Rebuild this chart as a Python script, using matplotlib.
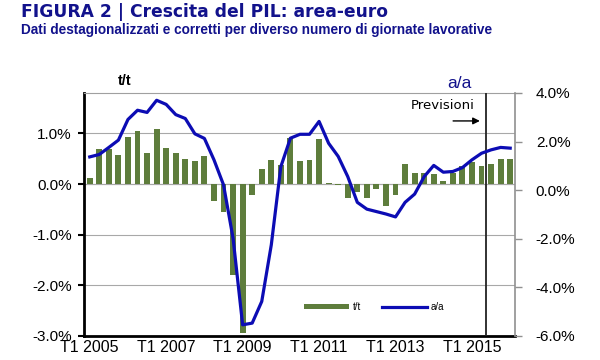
import matplotlib
matplotlib.use('Agg')
import matplotlib.pyplot as plt
import numpy as np

plt.rcParams['font.family'] = ['Liberation Sans', 'DejaVu Sans']

# trimestri T1 2005 - T1 2016
quarters = [f'T{q} {y}' for y in range(2005, 2017) for q in range(1, 5)][:45]
tick_labels = ['T1 2005', 'T1 2007', 'T1 2009', 'T1 2011', 'T1 2013', 'T1 2015']
forecast_start = 'T3 2015'

# variazione congiunturale t/t (%)
tt = [0.12, 0.70, 0.70, 0.58, 0.93, 1.04, 0.62, 1.08, 0.72, 0.61, 0.50, 0.45, 0.56,
      -0.33, -0.56, -1.80, -2.95, -0.22, 0.30, 0.48, 0.38, 0.92, 0.45, 0.48,
      0.89, 0.02, -0.02, -0.28, -0.15, -0.27, -0.09, -0.43, -0.22, 0.39,
      0.22, 0.22, 0.19, 0.06, 0.22, 0.35, 0.43, 0.35, 0.39, 0.49, 0.49]
# variazione tendenziale a/a (%)
aa = [1.37, 1.47, 1.76, 2.06, 2.91, 3.29, 3.20, 3.70, 3.53, 3.11, 2.95, 2.32, 2.13,
      1.25, 0.22, -1.98, -5.54, -5.47, -4.58, -2.25, 0.97, 2.14, 2.30, 2.30,
      2.83, 1.93, 1.39, 0.56, -0.50, -0.78, -0.88, -0.98, -1.10, -0.50,
      -0.16, 0.56, 1.02, 0.74, 0.77, 0.93, 1.25, 1.52, 1.66, 1.76, 1.73]

green = '#5e7d3c'
blue = '#0c0cb4'
navy = '#12128c'

x = np.arange(len(quarters))

fig = plt.figure(figsize=(6, 3.6), dpi=100)
ax = fig.add_axes([0.14, 0.0667, 0.7183, 0.675])
ax.bar(x, tt, width=0.62, color=green, label='t/t', zorder=2)
ax.set_ylim(-3, 1.8)
ax.set_xlim(-0.6, len(quarters) - 0.5)
ax.set_yticks([1, 0, -1, -2, -3])
ax.set_yticklabels([f'{v:.1f}%' for v in [1, 0, -1, -2, -3]], fontsize=11)
ax.grid(axis='y', color='#a8a8a8', lw=0.8, zorder=0)
ax.axhline(0, color='#a8a8a8', lw=0.8, zorder=1)
ax.set_xticks([quarters.index(t) for t in tick_labels])
ax.set_xticklabels(tick_labels, fontsize=11.5)
ax.tick_params(axis='x', length=0, pad=3)
ax.tick_params(axis='y', length=4, width=1.5, direction='out', pad=5)
for s in ['left', 'bottom']:
    ax.spines[s].set_linewidth(2)
    ax.spines[s].set_color('black')
ax.spines['top'].set_color('#a0a0a0')
ax.spines['right'].set_visible(False)

fc = quarters.index(forecast_start) - 0.5
ax.axvline(fc, color='#222222', lw=1.3, zorder=3)

ax2 = ax.twinx()
ax2.plot(x, aa, color=blue, lw=2.3, label='a/a', zorder=4)
ax2.set_ylim(-6, 4)
ax2.set_yticks([4, 2, 0, -2, -4, -6])
ax2.set_yticklabels([f'{v:.1f}%' for v in [4, 2, 0, -2, -4, -6]], fontsize=11)
ax2.tick_params(axis='y', length=5, width=1, color='#909090', direction='out', pad=10)
ax2.spines['right'].set_color('#909090')
ax2.spines['right'].set_linewidth(1.2)
for s in ['left', 'top', 'bottom']:
    ax2.spines[s].set_visible(False)

h1, l1 = ax.get_legend_handles_labels()
h2, l2 = ax2.get_legend_handles_labels()
leg = ax2.legend(h1 + h2, l1 + l2, ncol=2, frameon=False, fontsize=7,
                 loc='center left', bbox_to_anchor=(0.49, 0.12),
                 handlelength=4.6, handleheight=0.35, columnspacing=2.2,
                 handletextpad=0.4)

ax.text(0.095, 1.049, 't/t', transform=ax.transAxes, fontsize=10.5,
        fontweight='bold', ha='center', va='center')
ax2.text(0.872, 1.041, 'a/a', transform=ax.transAxes, fontsize=12.5,
         color=navy, ha='center', va='center')
ax2.text(0.832, 0.95, 'Previsioni', transform=ax.transAxes, fontsize=9.5,
         ha='center', va='center', family='DejaVu Sans')
ax2.annotate('', xy=(0.925, 0.885), xytext=(0.85, 0.885),
             xycoords='axes fraction',
             arrowprops=dict(arrowstyle='-|>', color='black', lw=1,
                             mutation_scale=10))

fig.text(0.035, 0.953, 'FIGURA 2 | Crescita del PIL: area-euro', fontsize=12.3,
         fontweight='bold', color=navy, va='baseline', family='DejaVu Sans')
fig.text(0.035, 0.905, 'Dati destagionalizzati e corretti per diverso numero di giornate lavorative',
         fontsize=9.8, fontweight='bold', color=navy, va='baseline')

fig.savefig('out.png', dpi=100)
